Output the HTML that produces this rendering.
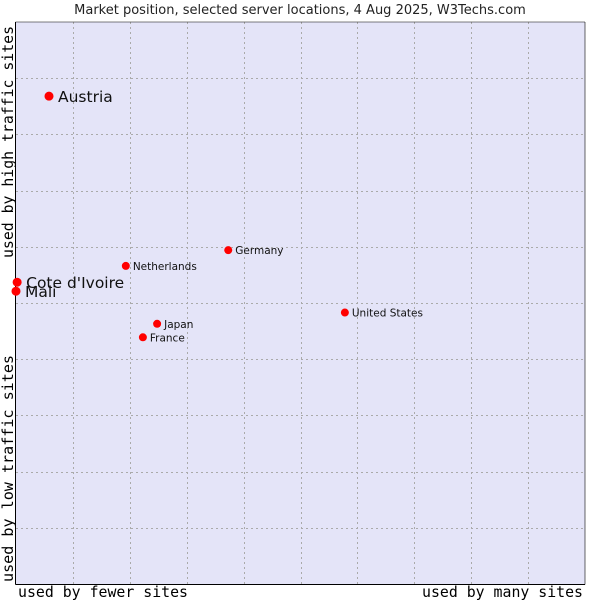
<!DOCTYPE html>
<html><head><meta charset="utf-8"><style>
body{margin:0;background:#fff;width:600px;height:600px;overflow:hidden}
svg text{font-family:"DejaVu Sans","Liberation Sans",sans-serif}
.mono{font-family:"DejaVu Sans Mono","Liberation Mono",monospace;font-size:15px;fill:#000}
</style></head><body>
<svg id="chart" width="600" height="600">
<text x="300" y="14" text-anchor="middle" font-size="13" fill="#222">Market position, selected server locations, 4 Aug 2025, W3Techs.com</text>
<rect x="16" y="22" width="569" height="562" fill="#e4e4f8"/>
<g id="grid"></g>
<line x1="15.5" y1="22" x2="15.5" y2="584.5" stroke="#000"/>
<line x1="15.5" y1="584.5" x2="585" y2="584.5" stroke="#000"/>
<line x1="585" y1="22" x2="585" y2="584.5" stroke="#000" stroke-width="0.6"/>
<line x1="15.5" y1="22" x2="585" y2="22" stroke="#000" stroke-width="0.6"/>
<g id="points"></g>
<text class="mono" x="18" y="597" textLength="170" lengthAdjust="spacingAndGlyphs">used by fewer sites</text>
<text class="mono" x="422" y="597" textLength="161" lengthAdjust="spacingAndGlyphs">used by many sites</text>
<text class="mono" transform="translate(13,258) rotate(-90)" textLength="232" lengthAdjust="spacingAndGlyphs">used by high traffic sites</text>
<text class="mono" transform="translate(13,582) rotate(-90)" textLength="227" lengthAdjust="spacingAndGlyphs">used by low traffic sites</text>
</svg>
<script>
const names=["Austria","Cote d'Ivoire","Mali","Netherlands","Germany","United States","Japan","France"];
const xVals=[0.58,0.02,0.0,1.93,3.73,5.78,2.48,2.23];
const yVals=[8.68,5.37,5.21,5.66,5.94,4.83,4.63,4.39];
const bigLabel=[true,true,true,false,false,false,false,false];
const gridTicks=[1,2,3,4,5,6,7,8,9];
const NS="http://www.w3.org/2000/svg";
const X0=16,X1=585,Y0=584,Y1=22;
const sx=v=>X0+v/10*(X1-X0);
const sy=v=>Y0-v/10*(Y0-Y1);
const grid=document.getElementById('grid');
gridTicks.forEach(t=>{
  const v=document.createElementNS(NS,'line');
  const x=Math.round(sx(t))+0.5;
  v.setAttribute('x1',x);v.setAttribute('x2',x);v.setAttribute('y1',Y1);v.setAttribute('y2',Y0);
  v.setAttribute('stroke','#aaa');v.setAttribute('stroke-dasharray','2,3');
  
  
  grid.appendChild(v);
  const h=document.createElementNS(NS,'line');
  const y=Math.round(sy(t))+0.5;
  h.setAttribute('x1',X0);h.setAttribute('x2',X1);h.setAttribute('y1',y);h.setAttribute('y2',y);
  h.setAttribute('stroke','#aaa');h.setAttribute('stroke-dasharray','2,3');
  
  
  grid.appendChild(h);
});
const pts=document.getElementById('points');
names.forEach((n,i)=>{
  const cx=sx(xVals[i]),cy=sy(yVals[i]);
  const c=document.createElementNS(NS,'circle');
  c.setAttribute('cx',cx);c.setAttribute('cy',cy);c.setAttribute('r',bigLabel[i]?4.5:4);c.setAttribute('fill','#f00');
  
  
  pts.appendChild(c);
  const t=document.createElementNS(NS,'text');
  t.setAttribute('x',cx+(bigLabel[i]?9:7));t.setAttribute('y',cy+(bigLabel[i]?6:4));
  t.setAttribute('font-size',bigLabel[i]?'15.5':'10.5');t.setAttribute('fill','#111');
  t.textContent=n;
  
  
  pts.appendChild(t);
});
</script>
</body></html>
